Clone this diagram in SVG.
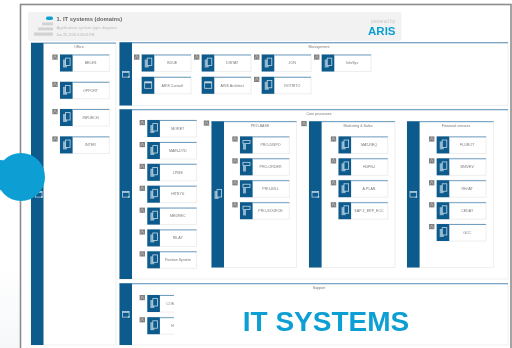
<svg xmlns="http://www.w3.org/2000/svg" width="512" height="348" viewBox="0 0 512 348">
<style>
text{font-family:"Liberation Sans",Arial,sans-serif}
.lbl{font-size:3.6px;fill:#777;text-anchor:middle}
.cap{font-size:3.6px;fill:#777;text-anchor:middle}
.pbg{fill:#fff;stroke:#efefef;stroke-width:1}
.bar{fill:#0b5a8c}
.top{fill:#7ba6c5}
</style>
<defs>
<filter id="soft" x="-2%" y="-2%" width="104%" height="104%"><feGaussianBlur stdDeviation="0.55"/></filter>
<filter id="soft2" x="-5%" y="-5%" width="110%" height="110%"><feGaussianBlur stdDeviation="0.35"/></filter>
<linearGradient id="fade" x1="0" y1="0" x2="0" y2="1"><stop offset="0" stop-color="#fff"/><stop offset="1" stop-color="#f5f7f9"/></linearGradient>
<g id="node">
<rect x="0" y="0" width="49.3" height="17" fill="#fff" stroke="#eeeeee" stroke-width="1"/>
<rect x="0" y="0" width="12.600" height="17" fill="#0b5a8c"/>
<rect x="12.600" y="0" width="36.700" height="1" fill="#6f9fc1"/>
</g>
<g id="badge"><rect x="-7.700" y="0" width="5.400" height="5.200" fill="#808080"/><path d="M-6.700 4.200 L-5 1 L-3.300 4.200" fill="none" stroke="#ccc" stroke-width=".6"/></g>
<g id="i-sys"><rect x="3" y="5" width="4" height="8" fill="#8fb4cd"/><rect x="5.500" y="3.600" width="4.600" height="7.400" fill="#0b5a8c" stroke="#c6d9e6" stroke-width=".8"/></g>
<g id="i-win"><rect x="3" y="5" width="7" height="6.500" fill="none" stroke="#c6d9e6" stroke-width=".8"/><rect x="3" y="5" width="7" height="1.500" fill="#c6d9e6"/></g>
<g id="i-form"><rect x="3" y="4" width="7" height="3.200" fill="none" stroke="#c6d9e6" stroke-width=".8"/><rect x="3" y="7.200" width="3" height="6" fill="#8fb4cd"/></g>
<g id="i-bar"><rect x="0" y="0" width="6.600" height="5.600" fill="none" stroke="#b8cfdf" stroke-width=".8"/><rect x="0" y="0" width="6.600" height="1.300" fill="#b8cfdf"/><rect x="5.600" y="4.600" width="1.600" height="1.600" fill="#b8cfdf"/></g>
</defs>

<rect width="512" height="348" fill="#fff"/>
<rect x="0" y="265" width="20" height="83" fill="url(#fade)"/>

<g filter="url(#soft)">
<g id="frame">
<rect x="20.500" y="4.500" width="490.500" height="360" fill="#fff" stroke="#8c8c8c" stroke-width="1.600"/>
</g>

<g id="header">
<rect x="28" y="12" width="373.500" height="29" rx="2" fill="#f2f2f2"/>
<rect x="46" y="16.500" width="7" height="3.500" rx="1.700" fill="#0a9fd3"/>
<rect x="42" y="22.500" width="11" height="2.800" fill="#d2d2d2"/>
<rect x="38" y="27.500" width="15" height="2.800" fill="#d2d2d2"/>
<rect x="34" y="32.500" width="19" height="3.200" fill="#d2d2d2"/>
<text x="56.500" y="20.500" font-size="5.800" font-weight="700" fill="#666">1. IT systems (domains)</text>
<text x="56.500" y="28.500" font-size="4.200" fill="#bdbdbd">Application system type diagram</text>
<text x="56.500" y="36" font-size="3.400" fill="#b5b5b5">Jan 26, 2016 4:53:06 PM</text>
<text x="395" y="22.500" font-size="4.600" fill="#c8c8c8" text-anchor="end">powered by</text>
<text x="395.500" y="34.500" font-size="11.500" font-weight="700" fill="#0a9fd3" text-anchor="end">ARIS</text>
</g>

<g id="office">
<rect class="pbg" x="31" y="43" width="85" height="302"/>
<rect class="top" x="31" y="42.500" width="85" height="1.200"/>
<rect class="bar" x="31" y="43" width="12.500" height="302"/>
<use href="#i-bar" x="35.500" y="191.500"/>
<text class="cap" x="79" y="48">Office</text>
</g>
<g id="management">
<rect class="pbg" x="119.500" y="43" width="388.500" height="62.500"/>
<rect class="top" x="119.500" y="42" width="388.500" height="1.300"/>
<rect class="bar" x="119.500" y="42.500" width="12.500" height="63"/>
<use href="#i-bar" x="122.500" y="71.500"/>
<text class="cap" x="319" y="48">Management</text>
</g>
<g id="core">
<rect class="pbg" x="119.500" y="109.500" width="388.500" height="169.500"/>
<rect class="top" x="119.500" y="109" width="388.500" height="1.300"/>
<rect class="bar" x="119.500" y="109.500" width="12.500" height="169.500"/>
<use href="#i-bar" x="122.500" y="191.500"/>
<text class="cap" x="319" y="115">Core processes</text>
</g>
<g id="support">
<rect class="pbg" x="119.500" y="283.500" width="388.500" height="61.500"/>
<rect class="top" x="119.500" y="283" width="388.500" height="1.300"/>
<rect class="bar" x="119.500" y="283.500" width="12.500" height="61.500"/>
<use href="#i-bar" x="122.500" y="311.500"/>
<text class="cap" x="319" y="289">Support</text>
</g>
<g id="pro-base">
<rect class="pbg" x="211.500" y="121.500" width="85" height="146"/>
<rect class="top" x="211.500" y="121" width="85" height="1.200"/>
<rect class="bar" x="211.500" y="121.500" width="12.500" height="146"/>
<use href="#i-sys" x="211.500" y="186"/>
<use href="#badge" x="211.500" y="120.500"/>
<text class="cap" x="260" y="126.500">PRO-BASE</text>
</g>
<g id="marketing">
<rect class="pbg" x="309" y="121.500" width="86" height="146"/>
<rect class="top" x="309" y="121" width="86" height="1.200"/>
<rect class="bar" x="309" y="121.500" width="12.600" height="146"/>
<use href="#i-bar" x="312" y="191.500"/>
<use href="#badge" x="309" y="121"/>
<text class="cap" x="358" y="127">Marketing &amp; Sales</text>
</g>
<g id="financial">
<rect class="pbg" x="407" y="121.500" width="86.500" height="146"/>
<rect class="top" x="407" y="121" width="86.500" height="1.200"/>
<rect class="bar" x="407" y="121.500" width="12.600" height="146"/>
<use href="#i-bar" x="410" y="191.500"/>
<text class="cap" x="456" y="127">Financial services</text>
</g>

<g id="n-beles" transform="translate(60 54.500)"><use href="#node"/><use href="#i-sys"/><use href="#badge"/><text class="lbl" x="30.500" y="9.800">BELES</text></g>
<g id="n-opport" transform="translate(60 81.800)"><use href="#node"/><use href="#i-sys"/><use href="#badge"/><text class="lbl" x="30.500" y="9.800">OPPORT</text></g>
<g id="n-infuech" transform="translate(60 109)"><use href="#node"/><use href="#i-sys"/><use href="#badge"/><text class="lbl" x="30.500" y="9.800">INFUECH</text></g>
<g id="n-inter" transform="translate(60 136.400)"><use href="#node"/><use href="#i-sys"/><use href="#badge"/><text class="lbl" x="30.500" y="9.800">INTER</text></g>

<g id="n-edue" transform="translate(141.700 54.500)"><use href="#node"/><use href="#i-sys"/><use href="#badge"/><text class="lbl" x="30.500" y="9.800">EDUE</text></g>
<g id="n-distat" transform="translate(201.700 54.500)"><use href="#node"/><use href="#i-sys"/><use href="#badge"/><text class="lbl" x="30.500" y="9.800">DISTAT</text></g>
<g id="n-jon" transform="translate(261.700 54.500)"><use href="#node"/><use href="#i-sys"/><use href="#badge"/><text class="lbl" x="30.500" y="9.800">JON</text></g>
<g id="n-infosys" transform="translate(321.700 54.500)"><use href="#node"/><use href="#i-sys"/><use href="#badge"/><text class="lbl" x="30.500" y="9.800">InfoSys</text></g>
<g id="n-consult" transform="translate(141.700 76.800)"><use href="#node"/><use href="#i-win"/><text class="lbl" x="30.500" y="9.800">ARIS Consult</text></g>
<g id="n-architect" transform="translate(201.700 76.800)"><use href="#node"/><use href="#i-win"/><text class="lbl" x="30.500" y="9.800">ARIS Architect</text></g>
<g id="n-rotrito" transform="translate(261.700 76.800)"><use href="#node"/><use href="#i-sys"/><use href="#badge"/><text class="lbl" x="30.500" y="9.800">ROTRITO</text></g>

<g id="n-moret" transform="translate(147.300 120)"><use href="#node"/><use href="#i-sys"/><use href="#badge"/><text class="lbl" x="30.500" y="9.800">MORET</text></g>
<g id="n-main-dyd" transform="translate(147.300 142)"><use href="#node"/><use href="#i-sys"/><use href="#badge"/><text class="lbl" x="30.500" y="9.800">MAIN-DYD</text></g>
<g id="n-lpise" transform="translate(147.300 163.800)"><use href="#node"/><use href="#i-sys"/><use href="#badge"/><text class="lbl" x="30.500" y="9.800">LPISE</text></g>
<g id="n-hiteyu" transform="translate(147.300 185.700)"><use href="#node"/><use href="#i-sys"/><use href="#badge"/><text class="lbl" x="30.500" y="9.800">HITEYU</text></g>
<g id="n-medrec" transform="translate(147.300 207.600)"><use href="#node"/><use href="#i-sys"/><use href="#badge"/><text class="lbl" x="30.500" y="9.800">MEDREC</text></g>
<g id="n-relay" transform="translate(147.300 229.400)"><use href="#node"/><use href="#i-sys"/><use href="#badge"/><text class="lbl" x="30.500" y="9.800">RILAY</text></g>
<g id="n-position" transform="translate(147.300 251.300)"><use href="#node"/><use href="#i-sys"/><use href="#badge"/><text class="lbl" x="30.500" y="9.800">Position System</text></g>

<g id="n-pro-dispo" transform="translate(240 136.400)"><use href="#node"/><use href="#i-form"/><use href="#badge"/><text class="lbl" x="30.500" y="9.800">PRO-DISPO</text></g>
<g id="n-pro-order" transform="translate(240 158.300)"><use href="#node"/><use href="#i-form"/><use href="#badge"/><text class="lbl" x="30.500" y="9.800">PRO-ORDER</text></g>
<g id="n-pro-bill" transform="translate(240 180.200)"><use href="#node"/><use href="#i-form"/><use href="#badge"/><text class="lbl" x="30.500" y="9.800">PRO-BILL</text></g>
<g id="n-pro-source" transform="translate(240 202.200)"><use href="#node"/><use href="#i-form"/><use href="#badge"/><text class="lbl" x="30.500" y="9.800">PRO-SOURCE</text></g>

<g id="n-mat-req" transform="translate(338.500 136.400)"><use href="#node"/><use href="#i-sys"/><use href="#badge"/><text class="lbl" x="30.500" y="9.800">MAT-REQ</text></g>
<g id="n-hufn" transform="translate(338.500 158.300)"><use href="#node"/><use href="#i-sys"/><use href="#badge"/><text class="lbl" x="30.500" y="9.800">HUFN-I</text></g>
<g id="n-aplan" transform="translate(338.500 180.200)"><use href="#node"/><use href="#i-sys"/><use href="#badge"/><text class="lbl" x="30.500" y="9.800">A.PLAN</text></g>
<g id="n-sap" transform="translate(338.500 202.200)"><use href="#node"/><use href="#i-sys"/><use href="#badge"/><text class="lbl" x="30.500" y="9.800">SAP Z_ERP_ECC</text></g>

<g id="n-flurot" transform="translate(436.700 136.400)"><use href="#node"/><use href="#i-sys"/><use href="#badge"/><text class="lbl" x="30.500" y="9.800">FLUROT</text></g>
<g id="n-bniev" transform="translate(436.700 158.300)"><use href="#node"/><use href="#i-sys"/><use href="#badge"/><text class="lbl" x="30.500" y="9.800">BNIVEV</text></g>
<g id="n-rhiat" transform="translate(436.700 180.200)"><use href="#node"/><use href="#i-sys"/><use href="#badge"/><text class="lbl" x="30.500" y="9.800">RH.IAT</text></g>
<g id="n-cedat" transform="translate(436.700 202.200)"><use href="#node"/><use href="#i-sys"/><use href="#badge"/><text class="lbl" x="30.500" y="9.800">CEDAT</text></g>
<g id="n-gcc" transform="translate(436.700 224)"><use href="#node"/><use href="#i-sys"/><use href="#badge"/><text class="lbl" x="30.500" y="9.800">GCC</text></g>

<g id="n-com" transform="translate(147.300 295)"><use href="#node"/><use href="#i-sys"/><use href="#badge"/><text class="lbl" x="19" y="9.800" style="text-anchor:start">COM</text></g>
<g id="n-h" transform="translate(147.300 317.200)"><use href="#node"/><use href="#i-sys"/><use href="#badge"/><text class="lbl" x="24" y="9.800" style="text-anchor:start">H</text></g>
<rect x="174" y="288" width="60" height="55" fill="#fff"/>
</g>

<text x="326" y="331" font-size="28" font-weight="700" fill="#0a9fd3" text-anchor="middle" filter="url(#soft2)">IT SYSTEMS</text>
<g id="blob" filter="url(#soft2)" fill="#0a9fd3">
<circle cx="21" cy="177" r="24"/>
<circle cx="0" cy="175" r="15"/>
</g>
<g id="connectors"/>
</svg>
